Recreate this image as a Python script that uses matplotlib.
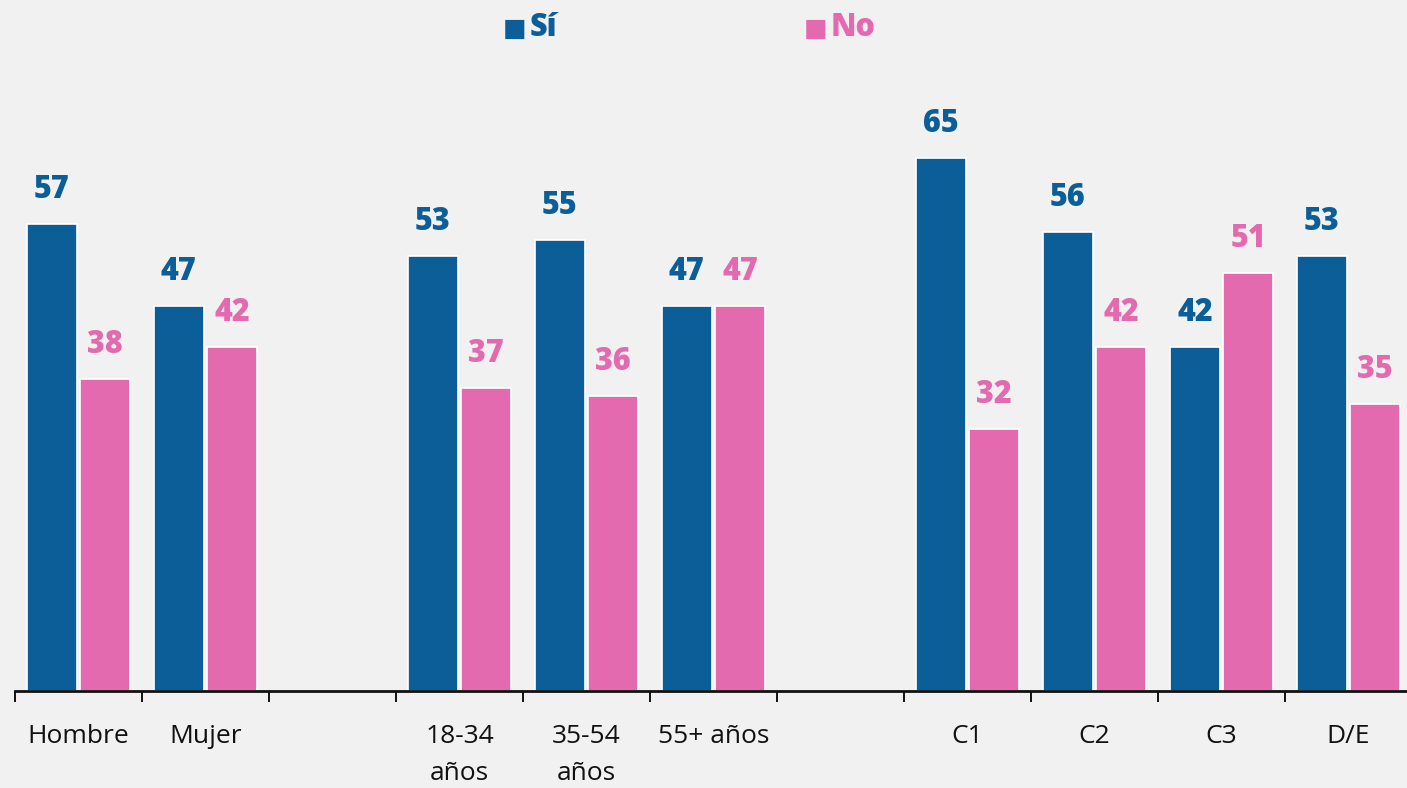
import matplotlib
matplotlib.use("Agg")
import matplotlib.pyplot as plt
import numpy as np

# Data
categories = ["Hombre", "Mujer", "", "18-34\naños", "35-54\naños", "55+ años", "", "C1", "C2", "C3", "D/E"]
si_values = [57, 47, None, 53, 55, 47, None, 65, 56, 42, 53]
no_values = [38, 42, None, 37, 36, 47, None, 32, 42, 51, 35]
series_names = ["Sí", "No"]

BLUE = "#0b5e97"
PINK = "#e36aae"
BG = "#f1f1f1"
FONT = "Open Sans"

W, H = 1407, 788
fig = plt.figure(figsize=(W / 100, H / 100), dpi=100)
fig.patch.set_facecolor(BG)

ax_left = 15 / W
ax_bottom = (H - 691) / H
ax = fig.add_axes([ax_left, ax_bottom, 1 - ax_left, 1 - ax_bottom])
ax.set_facecolor("none")

n = len(categories)
slot_px = 127.0
centers = np.arange(n) + 0.5
bw = 0.395
off = 0.21

for vals, sign, color in [(si_values, -1, BLUE), (no_values, 1, PINK)]:
    for c, v in zip(centers, vals):
        if v is None:
            continue
        x = c + sign * off
        ax.bar(x, v, width=bw, color=color, edgecolor="white", linewidth=1.2, zorder=2)
        ax.annotate(str(v), (x, v), xytext=(0, 13), textcoords="offset points",
                    ha="center", va="bottom", fontsize=22, fontweight="heavy",
                    color=color, family=FONT)

for s in ["top", "right", "left"]:
    ax.spines[s].set_visible(False)
ax.spines["bottom"].set_linewidth(2)
ax.spines["bottom"].set_color("#111111")
ax.set_yticks([])

ax.set_xticks(np.arange(n + 1))
ax.set_xticklabels([])
ax.tick_params(axis="x", which="major", length=8, width=1.4, color="#111111")
ax.set_xticks(centers, minor=True)
ax.set_xticklabels(categories, minor=True, fontsize=19, family=FONT, color="#111111",
                   linespacing=1.62, va="top")
ax.tick_params(axis="x", which="minor", length=0, pad=24)

ax.set_xlim(0, (W - 15) / slot_px)
ax.set_ylim(0, 691 / 8.2)

# Legend
for name, color, xs in [(series_names[0], BLUE, 503), (series_names[1], PINK, 804)]:
    fig.text(xs / W, 1 - 29 / H, "■", color=color, fontsize=18, va="center", ha="left",
             family="DejaVu Sans")
    fig.text((xs + 27) / W, 1 - 28 / H, name, color=color, fontsize=22, fontweight="heavy",
             va="center", ha="left", family=FONT)

fig.savefig("out.png", dpi=100, facecolor=BG)
